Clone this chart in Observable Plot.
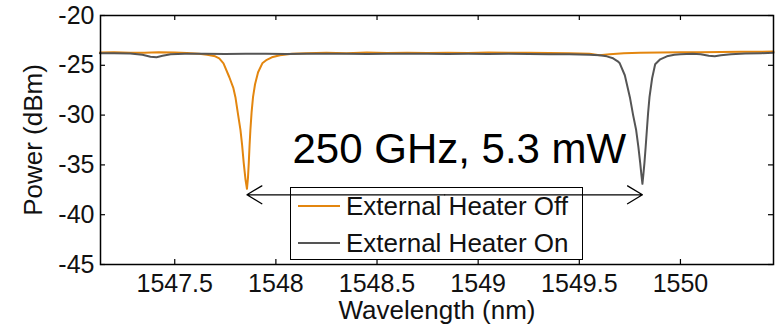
<!DOCTYPE html>
<html>
<head>
<meta charset="utf-8">
<script src="https://cdn.jsdelivr.net/npm/d3@7"></script>
<script src="https://cdn.jsdelivr.net/npm/@observablehq/plot@0.6"></script>
<style>
  html, body { margin: 0; padding: 0; background: #fff; }
  #wrap { position: relative; width: 777px; height: 329px; font-family: "Liberation Sans", Arial, sans-serif; }
  #legend { position: absolute; left: 290px; top: 187px; width: 291px; height: 71px; border: 1.5px solid #000; }
  .row { position: absolute; left: 0; height: 30px; display: flex; align-items: center; font-size: 26px; color: #111; white-space: nowrap; }
  .row span.sw { display: inline-block; width: 42px; height: 0; border-top: 2px solid; margin-left: 7px; margin-right: 6px; }
</style>
</head>
<body>
<div id="wrap">
  <div id="chart"></div>
  <div id="legend">
    <div class="row" style="top:3px"><span class="sw" style="border-color:#E3860F"></span>External Heater Off</div>
    <div class="row" style="top:40px"><span class="sw" style="border-color:#555555"></span>External Heater On</div>
  </div>
</div>
<script>
// ---- data ----
const offWavelength = [1547.13,1547.20,1547.28,1547.35,1547.42,1547.50,1547.56,1547.62,1547.66,1547.70,1547.72,1547.741,1547.77,1547.79,1547.800,1547.812,1547.825,1547.833,1547.841,1547.850,1547.857,1547.862,1547.866,1547.870,1547.874,1547.880,1547.887,1547.897,1547.912,1547.933,1547.955,1547.98,1548.02,1548.08,1548.15,1548.25,1548.35,1548.45,1548.55,1548.65,1548.75,1548.85,1548.95,1549.05,1549.15,1549.25,1549.35,1549.45,1549.55,1549.60,1549.65,1549.72,1549.80,1549.90,1550.00,1550.10,1550.20,1550.30,1550.40,1550.46];
const offPower = [-23.72,-23.70,-23.74,-23.75,-23.70,-23.72,-23.76,-23.85,-23.95,-24.10,-24.30,-24.80,-26.20,-27.30,-28.20,-29.80,-31.50,-33.00,-34.80,-36.50,-37.40,-36.30,-34.80,-33.00,-31.50,-29.70,-28.20,-26.90,-25.70,-24.80,-24.45,-24.20,-24.00,-23.85,-23.78,-23.75,-23.78,-23.72,-23.76,-23.73,-23.77,-23.74,-23.76,-23.72,-23.75,-23.73,-23.76,-23.78,-23.85,-24.00,-23.90,-23.78,-23.75,-23.72,-23.70,-23.68,-23.67,-23.65,-23.63,-23.62];

const onWavelength = [1547.13,1547.20,1547.28,1547.34,1547.38,1547.41,1547.44,1547.48,1547.55,1547.65,1547.75,1547.85,1547.95,1548.05,1548.15,1548.25,1548.35,1548.45,1548.55,1548.65,1548.75,1548.85,1548.95,1549.05,1549.15,1549.25,1549.35,1549.45,1549.55,1549.60,1549.636,1549.667,1549.69,1549.70,1549.725,1549.75,1549.766,1549.781,1549.792,1549.801,1549.807,1549.812,1549.817,1549.822,1549.828,1549.834,1549.840,1549.847,1549.860,1549.875,1549.90,1549.933,1549.97,1550.00,1550.06,1550.10,1550.14,1550.17,1550.20,1550.25,1550.32,1550.40,1550.46];
const onPower = [-23.78,-23.80,-23.82,-23.95,-24.15,-24.20,-24.05,-23.90,-23.85,-23.85,-23.86,-23.84,-23.85,-23.86,-23.84,-23.85,-23.84,-23.86,-23.85,-23.85,-23.84,-23.86,-23.85,-23.86,-23.85,-23.87,-23.88,-23.90,-23.95,-24.00,-24.10,-24.30,-24.60,-24.80,-26.00,-28.20,-30.00,-31.50,-33.20,-34.80,-36.00,-36.90,-35.90,-34.80,-33.20,-31.50,-29.80,-28.20,-26.30,-24.90,-24.40,-24.10,-23.95,-23.88,-23.85,-23.90,-24.05,-24.10,-24.00,-23.90,-23.82,-23.78,-23.75];

const xTicks = [1547.5, 1548, 1548.5, 1549, 1549.5, 1550];
const yTicks = [-45, -40, -35, -30, -25, -20];
const xDomain = [1547.133, 1550.46];
const yDomain = [-45, -20];

const arrowY = -38;
const arrowFrom = 1547.857;
const arrowTo = 1549.812;
const annotation = "250 GHz, 5.3 mW";
const annotationX = 1548.907;
const annotationY = -33.5;

const offData = offWavelength.map((x, i) => ({x, y: offPower[i]}));
const onData = onWavelength.map((x, i) => ({x, y: onPower[i]}));
const arrowMid = (arrowFrom + arrowTo) / 2;

const W = 777, H = 329, ML = 100, MR = 4, MT = 15, MB = 65;
const PW = W - ML - MR, PH = H - MT - MB;
const T = 5;

const chart = Plot.plot({
  width: W, height: H,
  marginLeft: ML, marginRight: MR, marginTop: MT, marginBottom: MB,
  style: {fontFamily: "'Liberation Sans', Arial, sans-serif", fontSize: "25px", color: "#111", background: "#fff"},
  x: {domain: xDomain},
  y: {domain: yDomain},
  marks: [
    Plot.axisX({ticks: xTicks, tickSize: 0, tickPadding: 10, tickFormat: d => String(d), label: null, fontSize: 25}),
    Plot.axisY({ticks: yTicks, tickSize: 0, tickPadding: 6, tickFormat: d => String(d), label: null, fontSize: 25}),
    Plot.tickX(xTicks, {x: d => d, insetTop: PH - T, stroke: "#000", strokeWidth: 1.2}),
    Plot.tickX(xTicks, {x: d => d, insetBottom: PH - T, stroke: "#000", strokeWidth: 1.2}),
    Plot.tickY(yTicks, {y: d => d, insetRight: PW - T, stroke: "#000", strokeWidth: 1.2}),
    Plot.tickY(yTicks, {y: d => d, insetLeft: PW - T, stroke: "#000", strokeWidth: 1.2}),
    Plot.line(offData, {x: "x", y: "y", stroke: "#E3860F", strokeWidth: 2}),
    Plot.line(onData, {x: "x", y: "y", stroke: "#555555", strokeWidth: 2}),
    Plot.arrow([{x1: arrowMid, x2: arrowFrom}, {x1: arrowMid, x2: arrowTo}], {x1: "x1", x2: "x2", y1: arrowY, y2: arrowY, stroke: "#000", strokeWidth: 1.3, headLength: 20, headAngle: 62}),
    Plot.text([annotation], {x: annotationX, y: annotationY, text: d => d, fontSize: 42, fill: "#000", textAnchor: "middle", lineAnchor: "middle"}),
    Plot.text(["Power (dBm)"], {frameAnchor: "left", dx: -67, rotate: -90, text: d => d, fontSize: 26, fill: "#111", textAnchor: "middle", lineAnchor: "middle"}),
    Plot.text(["Wavelength (nm)"], {frameAnchor: "bottom", dy: 46, text: d => d, fontSize: 26, fill: "#111", textAnchor: "middle", lineAnchor: "middle"}),
    Plot.frame({stroke: "#000", strokeWidth: 1.5})
  ]
});
document.getElementById("chart").appendChild(chart);
</script>
</body>
</html>
